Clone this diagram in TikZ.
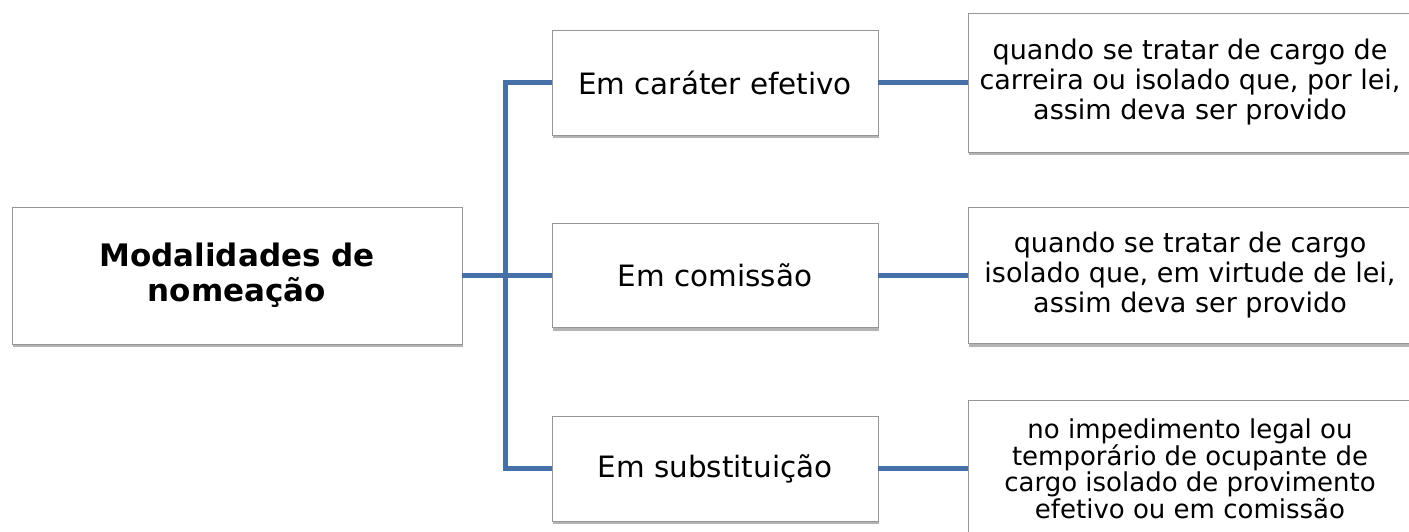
\documentclass[tikz,border=0pt]{standalone}
\usepackage{fontspec}
\setmainfont{DejaVu Sans}
\usetikzlibrary{shadows}
\definecolor{connblue}{RGB}{70,112,168}
\definecolor{boxgray}{RGB}{150,150,150}
\tikzset{
  box/.style={draw=boxgray, line width=0.9pt, fill=white, align=center, inner sep=0pt,
    drop shadow={shadow xshift=1.2pt, shadow yshift=-3pt, opacity=0.45, fill=black!65}},
  conn/.style={draw=connblue, line width=4.5pt},
}
\begin{document}
\begin{tikzpicture}[x=1pt,y=-1pt]
\useasboundingbox (0,0) rectangle (1409,531);
\fill[white] (0,0) rectangle (1409,531);
% root
\node[box, minimum width=450pt, minimum height=137pt,
  font=\fontsize{31}{35}\selectfont\bfseries] (root) at (237,275.5)
  {Modalidades de\\nomeação};
% middle
\node[box, minimum width=326pt, minimum height=105pt,
  font=\fontsize{29.4}{32}\selectfont] (m1) at (715,82.5) {Em caráter efetivo};
\node[box, minimum width=326pt, minimum height=104pt,
  font=\fontsize{29.4}{32}\selectfont] (m2) at (715,275.5) {Em comissão};
\node[box, minimum width=326pt, minimum height=105pt,
  font=\fontsize{29.4}{32}\selectfont] (m3) at (715,468.5) {Em substituição};
% right
\node[box, minimum width=444pt, minimum height=139pt,
  font=\fontsize{27}{30}\selectfont] (r1) at (1190,82.5)
  {quando se tratar de cargo de\\carreira ou isolado que, por lei,\\assim deva ser provido};
\node[box, minimum width=444pt, minimum height=136pt,
  font=\fontsize{27}{30}\selectfont] (r2) at (1190,275.5)
  {quando se tratar de cargo\\isolado que, em virtude de lei,\\assim deva ser provido};
\node[box, minimum width=444pt, minimum height=137pt,
  font=\fontsize{26}{24}\selectfont] (r3) at (1190,468.5)
  {no impedimento legal ou\\temporário de ocupante de\\cargo isolado de provimento\\efetivo ou em comissão};
% connectors
\coordinate (trunk) at (505.5,0);
\draw[conn] (root.east) -- (m2.west);
\draw[conn, line join=miter] (m1.west) -- (m1.west -| trunk) -- (m3.west -| trunk) -- (m3.west);
\draw[conn] (m1.east) -- (r1.west);
\draw[conn] (m2.east) -- (r2.west);
\draw[conn] (m3.east) -- (r3.west);
\end{tikzpicture}
\end{document}
